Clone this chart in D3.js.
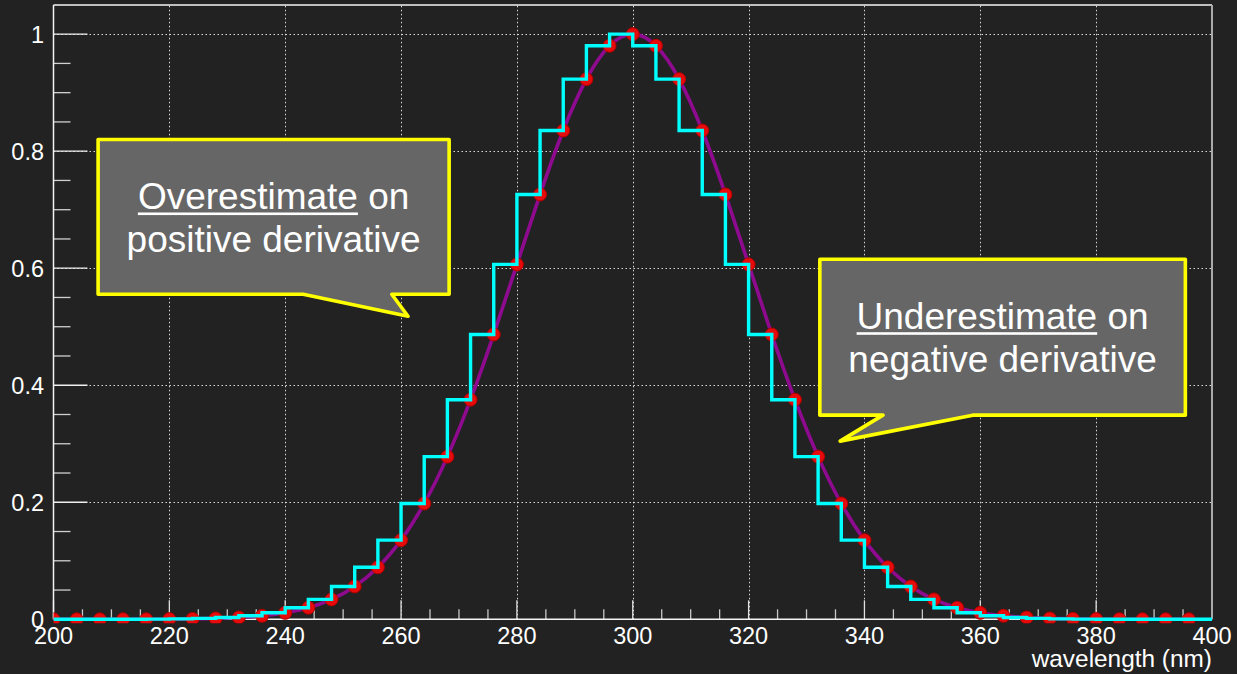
<!DOCTYPE html>
<html>
<head>
<meta charset="utf-8">
<script src="https://cdn.jsdelivr.net/npm/d3@7"></script>
<style>
  html, body { margin: 0; padding: 0; background: #222222; }
  #main { width: 1237px; height: 674px; }
  text { font-family: "Liberation Sans", Arial, Helvetica, sans-serif; fill: #fff; }
</style>
</head>
<body>
<div id="main"></div>
<script>
// sampled points (nm) and their normalised intensity
const wavelengths = [200, 204, 208, 212, 216, 220, 224, 228, 232, 236,
  240, 244, 248, 252, 256, 260, 264, 268, 272, 276,
  280, 284, 288, 292, 296, 300, 304, 308, 312, 316,
  320, 324, 328, 332, 336, 340, 344, 348, 352, 356,
  360, 364, 368, 372, 376, 380, 384, 388, 392, 396];
const intensity = [0.0000, 0.0000, 0.0000, 0.0001, 0.0001, 0.0003, 0.0007, 0.0015, 0.0031, 0.0060,
  0.0111, 0.0198, 0.0340, 0.0561, 0.0889, 0.1353, 0.1979, 0.2780, 0.3753, 0.4868,
  0.6065, 0.7261, 0.8353, 0.9231, 0.9802, 1.0000, 0.9802, 0.9231, 0.8353, 0.7261,
  0.6065, 0.4868, 0.3753, 0.2780, 0.1979, 0.1353, 0.0889, 0.0561, 0.0340, 0.0198,
  0.0111, 0.0060, 0.0031, 0.0015, 0.0007, 0.0003, 0.0001, 0.0001, 0.0000, 0.0000];

const xTicks = [200, 220, 240, 260, 280, 300, 320, 340, 360, 380, 400];
const yTicks = [0, 0.2, 0.4, 0.6, 0.8, 1];
const xTitle = "wavelength (nm)";

const W = 1237, H = 674;
const svg = d3.select("#main").append("svg")
  .attr("width", W)
  .attr("height", H);

svg.append("rect")
  .attr("width", W)
  .attr("height", H)
  .attr("fill", "#222222");

const x = d3.scaleLinear().domain([200, 400]).range([53.5, 1212]);
const y = d3.scaleLinear().domain([0, 1.05]).range([619.3, 4.9]);

const pLeft = x(200), pRight = x(400), pTop = y(1.05), pBottom = y(0);

svg.append("clipPath").attr("id", "plot")
  .append("rect")
  .attr("x", pLeft).attr("y", pTop - 4)
  .attr("width", pRight - pLeft).attr("height", pBottom - pTop + 8);

// grid
const grid = svg.append("g")
  .attr("stroke", "#d8d8d8")
  .attr("stroke-width", 1)
  .attr("stroke-dasharray", "1.5,2.5");

grid.selectAll("line.gx")
  .data(xTicks.slice(1, -1))
  .enter()
  .append("line")
  .attr("x1", d => Math.round(x(d)) + 0.5)
  .attr("x2", d => Math.round(x(d)) + 0.5)
  .attr("y1", pBottom)
  .attr("y2", pTop);

grid.selectAll("line.gy")
  .data(yTicks.slice(1))
  .enter()
  .append("line")
  .attr("x1", pLeft)
  .attr("x2", pRight)
  .attr("y1", d => Math.round(y(d)) + 0.5)
  .attr("y2", d => Math.round(y(d)) + 0.5);

// ticks
const ticks = svg.append("g").attr("stroke-width", 1.3);

ticks.selectAll("line.xmin")
  .data(d3.range(200, 401, 5))
  .enter()
  .append("line")
  .attr("stroke", d => d % 20 === 0 ? "#e0e0e0" : "#c8c8c8")
  .attr("x1", d => x(d))
  .attr("x2", d => x(d))
  .attr("y1", pBottom)
  .attr("y2", d => d % 20 === 0 ? pBottom - 19 : pBottom - 10);

ticks.selectAll("line.ymin")
  .data(d3.range(0, 21).map(i => i * 0.05))
  .enter()
  .append("line")
  .attr("stroke", (d, i) => i % 4 === 0 ? "#f0f0f0" : "#d0d0d0")
  .attr("x1", pLeft)
  .attr("x2", (d, i) => i % 4 === 0 ? pLeft + 34 : pLeft + 17)
  .attr("y1", d => y(d))
  .attr("y2", d => y(d));

// frame
svg.append("line")
  .attr("x1", pLeft).attr("x2", pRight)
  .attr("y1", pTop).attr("y2", pTop)
  .attr("stroke", "#f4f4f4").attr("stroke-width", 1.5);
svg.append("line")
  .attr("x1", pRight).attr("x2", pRight)
  .attr("y1", pTop).attr("y2", pBottom)
  .attr("stroke", "#aaaaaa").attr("stroke-width", 2);
svg.append("line")
  .attr("x1", pLeft).attr("x2", pLeft)
  .attr("y1", pTop).attr("y2", pBottom)
  .attr("stroke", "#f4f4f4").attr("stroke-width", 1.5);
svg.append("line")
  .attr("x1", pLeft).attr("x2", pRight)
  .attr("y1", pBottom).attr("y2", pBottom)
  .attr("stroke", "#f4f4f4").attr("stroke-width", 1.5);

// tick labels
svg.append("g")
  .selectAll("text")
  .data(xTicks)
  .enter()
  .append("text")
  .attr("x", d => x(d))
  .attr("y", 644)
  .attr("text-anchor", "middle")
  .attr("font-size", "23.5px")
  .text(d => d);

svg.append("g")
  .selectAll("text")
  .data(yTicks)
  .enter()
  .append("text")
  .attr("x", 44)
  .attr("y", d => y(d) + 8.8)
  .attr("text-anchor", "end")
  .attr("font-size", "23.5px")
  .text(d => d3.format("~g")(d));

svg.append("text")
  .attr("x", pRight)
  .attr("y", 667)
  .attr("text-anchor", "end")
  .attr("font-size", "24.4px")
  .text(xTitle);

// data
const pts = wavelengths.map((w, i) => ({ x: w, y: intensity[i] }));
const binWidth = wavelengths[1] - wavelengths[0];
const steps = [];
wavelengths.forEach((w, i) => {
  const v = i + 1 < intensity.length ? intensity[i + 1] : 0;
  steps.push([w, v], [w + binWidth, v]);
});

const plot = svg.append("g").attr("clip-path", "url(#plot)");

plot.append("path")
  .datum(pts)
  .attr("fill", "none")
  .attr("stroke", "#8e0a8e")
  .attr("stroke-width", 3.6)
  .attr("d", d3.line().x(d => x(d.x)).y(d => y(d.y)).curve(d3.curveNatural));

plot.selectAll("circle")
  .data(pts)
  .enter()
  .append("circle")
  .attr("cx", d => x(d.x))
  .attr("cy", d => y(d.y))
  .attr("r", 6.5)
  .attr("fill", "#e60a0a")
  .attr("stroke", "#b00000")
  .attr("stroke-width", 1);

plot.append("path")
  .datum(steps)
  .attr("fill", "none")
  .attr("stroke", "#00ffff")
  .attr("stroke-width", 3.4)
  .attr("stroke-linejoin", "miter")
  .attr("d", d3.line().x(d => x(d[0])).y(d => y(d[1])));

// callouts (box corners in axis units, tail = base A, tip, base B)
const addCallout = (c) => {
  const x0 = x(c.x0), x1 = x(c.x1), y0 = y(c.y0), y1 = y(c.y1);
  const path = d3.path();
  path.moveTo(x0, y0);
  path.lineTo(x1, y0);
  path.lineTo(x1, y1);
  path.lineTo(x(c.tail[2]), y1);
  path.lineTo(x(c.tail[1]), y(c.tipY));
  path.lineTo(x(c.tail[0]), y1);
  path.lineTo(x0, y1);
  path.closePath();

  const g = svg.append("g");
  g.append("path")
    .attr("d", path.toString())
    .attr("fill", "#666666")
    .attr("stroke", "#ffff00")
    .attr("stroke-width", 3.6)
    .attr("stroke-linejoin", "round");

  const cx = (x0 + x1) / 2;
  const t1 = g.append("text")
    .attr("x", cx)
    .attr("y", y0 + 70)
    .attr("text-anchor", "middle")
    .attr("font-size", "37px");
  const u = t1.append("tspan").text(c.under);
  t1.append("tspan").text(" " + c.rest);

  g.append("text")
    .attr("x", cx)
    .attr("y", y0 + 113)
    .attr("text-anchor", "middle")
    .attr("font-size", "37px")
    .text(c.line2);

  const full = t1.node().getComputedTextLength();
  const ul = u.node().getComputedTextLength();
  g.append("rect")
    .attr("x", cx - full / 2)
    .attr("y", y0 + 73)
    .attr("width", ul)
    .attr("height", 2.6)
    .attr("fill", "#fff");
};

addCallout({
  x0: 207.7, x1: 268.3, y0: 0.820, y1: 0.5556,
  tail: [243.1, 261.2, 258.4], tipY: 0.518,
  under: "Overestimate", rest: "on", line2: "positive derivative"
});

addCallout({
  x0: 332.3, x1: 395.4, y0: 0.6154, y1: 0.3489,
  tail: [343.2, 335.8, 358.7], tipY: 0.3045,
  under: "Underestimate", rest: "on", line2: "negative derivative"
});
</script>
</body>
</html>
